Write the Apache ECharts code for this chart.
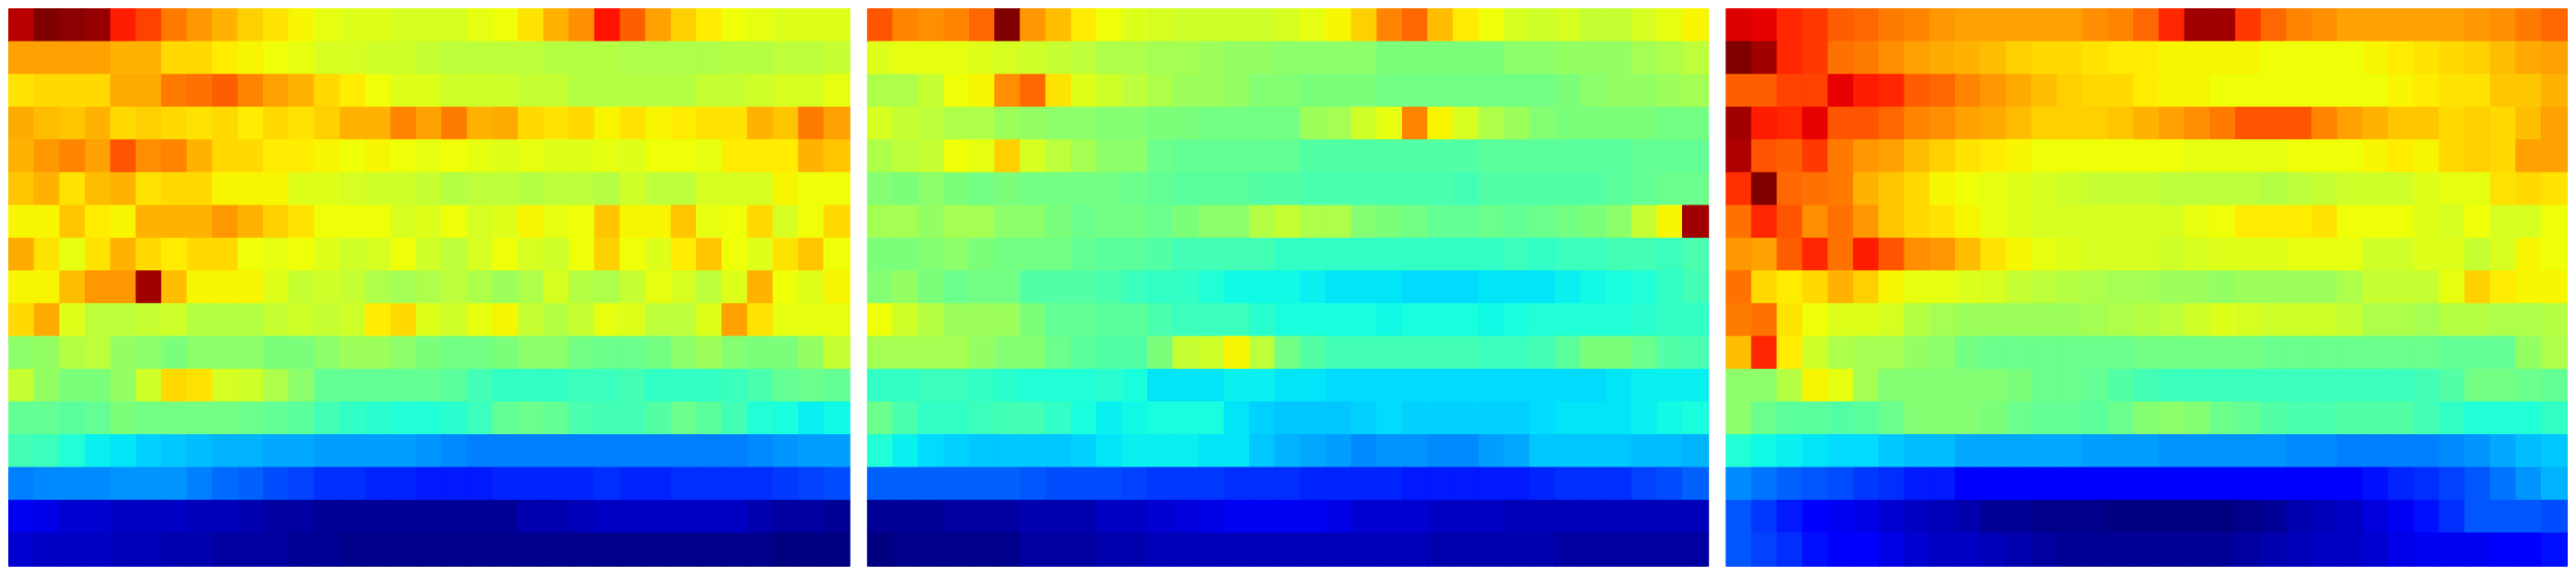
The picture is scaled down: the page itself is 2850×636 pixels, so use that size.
<!DOCTYPE html>
<html>
<head>
<meta charset="utf-8">
<script src="https://cdn.jsdelivr.net/npm/echarts@6/dist/echarts.min.js"></script>
<style>
html,body{margin:0;padding:0;background:#fff;}
#chart{width:2850px;height:636px;}
</style>
</head>
<body>
<div id="chart"></div>
<script>
// Values are positions on the jet colour scale, 0..100
const columns = Array.from({length: 33}, (_, i) => String(i + 1));
const rows = Array.from({length: 17}, (_, i) => String(i + 1));

const panel1 = [
[95,100,99,98,88,84,78,75,72,69,67,65,63,62,62,61,61,61,63,64,67,72,76,89,81,74,69,66,64,63,62,62,62],
[74,74,74,74,72,72,68,68,66,65,64,63,61,61,60,60,59,58,58,58,58,57,57,57,56,56,56,56,57,57,58,58,59],
[67,68,68,68,73,73,78,79,81,77,74,72,68,66,64,62,62,60,60,60,59,59,57,57,57,57,57,59,59,60,61,61,63],
[73,71,70,72,68,69,68,67,68,66,68,67,69,72,72,77,74,78,72,73,68,67,68,65,67,65,66,67,67,72,70,78,74],
[72,75,77,74,82,76,77,72,68,68,66,66,65,64,65,64,63,64,63,62,63,62,62,63,62,64,64,63,66,66,66,72,70],
[70,72,67,71,72,67,68,68,65,65,65,62,62,61,60,60,59,57,58,58,57,58,58,57,60,58,58,61,61,61,65,64,64],
[65,65,70,66,65,72,72,72,75,72,69,67,64,64,64,61,62,64,61,62,65,63,64,70,65,65,70,63,64,68,61,64,68],
[73,67,63,67,72,68,66,68,68,64,63,64,62,60,61,64,60,58,61,64,61,60,64,69,64,62,66,70,64,62,67,70,64],
[65,65,71,75,75,97,71,65,65,65,62,59,60,59,56,55,56,58,56,54,56,61,57,56,59,63,61,58,62,72,64,62,65],
[68,73,62,58,58,59,60,57,57,57,59,60,59,60,66,68,62,60,63,65,59,57,59,63,62,58,58,62,74,67,63,63,63],
[52,53,57,58,53,52,50,52,52,52,50,50,52,54,54,52,50,49,49,50,52,52,49,48,48,49,52,54,51,50,50,53,59],
[59,53,50,50,53,60,68,67,61,60,56,52,47,47,47,47,47,46,43,41,41,41,42,42,43,41,41,41,42,44,47,48,47],
[47,47,46,47,50,49,49,49,49,48,47,46,43,41,40,39,39,40,42,47,48,47,44,43,43,45,48,46,43,39,38,36,37],
[43,42,39,36,35,33,32,31,30,30,29,29,28,28,28,28,27,26,25,25,25,25,25,25,25,25,25,25,25,26,27,28,28],
[25,26,26,26,27,27,27,25,23,22,20,19,17,17,16,16,15,15,15,16,16,16,16,17,16,16,17,17,17,17,18,19,20],
[10,9,7,7,6,6,6,5,5,4,3,3,2,2,2,2,2,2,2,2,4,4,5,6,6,6,6,6,6,4,3,3,2],
[7,6,6,6,5,5,4,4,3,3,3,2,2,1,1,1,1,1,1,1,1,1,1,1,1,1,1,1,1,1,0,0,0]
];

const panel2 = [
[82,77,76,77,80,100,75,71,66,64,62,61,60,60,60,60,61,63,65,69,77,80,71,66,64,61,60,61,59,59,61,63,65],
[62,63,63,63,62,61,60,59,58,56,56,55,55,54,53,53,52,52,52,52,50,50,50,50,50,52,52,53,53,53,55,56,58],
[56,56,59,64,65,76,80,67,62,60,58,56,54,54,53,51,51,50,50,50,49,49,49,49,49,49,49,50,52,53,53,54,55],
[61,59,58,56,56,54,53,52,52,51,51,50,50,49,49,49,49,54,55,60,63,77,65,61,56,54,51,50,50,50,50,49,49],
[56,58,59,64,63,69,61,58,55,52,52,48,47,47,47,47,47,45,45,45,45,45,45,45,46,46,46,46,46,46,47,47,47],
[51,50,52,50,49,50,49,49,49,49,48,47,46,46,46,45,45,44,44,44,44,44,44,43,45,45,45,45,45,46,47,48,48],
[55,55,53,55,55,52,52,50,48,49,49,48,50,52,52,57,59,56,56,51,50,49,47,47,48,47,48,49,50,52,59,65,97],
[50,50,51,52,50,49,49,49,47,46,46,45,43,43,43,43,41,41,41,41,41,41,41,41,41,42,41,42,42,43,43,42,44],
[51,53,50,48,49,49,45,45,45,44,42,41,41,39,37,37,37,36,35,35,35,34,34,34,35,35,35,36,37,38,39,41,43],
[64,60,57,54,54,54,50,47,47,46,46,44,42,42,42,40,38,38,38,38,37,38,38,38,37,38,39,39,39,39,40,41,41],
[55,55,55,55,53,51,51,48,46,45,45,50,59,60,65,58,49,45,43,43,43,43,43,43,42,42,43,46,50,50,48,45,44],
[41,41,42,42,41,40,39,39,39,40,38,35,35,35,36,36,35,35,34,34,34,34,34,34,34,34,34,34,34,35,36,36,36],
[48,44,41,41,42,43,43,41,38,36,37,38,38,38,35,33,32,32,32,33,34,33,33,33,33,33,34,35,35,35,36,37,38],
[39,36,34,33,32,32,32,32,33,35,36,36,36,35,35,32,30,29,28,26,27,27,26,26,28,29,32,32,32,32,31,31,30],
[22,22,22,22,22,22,21,20,20,20,19,18,18,18,17,17,17,16,16,16,16,15,15,15,15,15,16,17,17,17,19,20,22],
[2,2,2,3,3,3,4,4,4,6,6,7,8,9,10,10,10,10,9,7,7,7,6,6,6,5,5,5,5,5,5,5,5],
[0,1,1,1,1,1,3,3,3,4,4,5,5,5,5,5,5,5,5,5,5,5,4,4,4,4,4,3,3,3,3,3,3]
];

const panel3 = [
[92,91,87,85,81,80,78,77,75,74,74,74,74,74,76,77,80,87,97,97,85,80,77,76,74,74,74,74,74,75,76,78,80],
[100,97,87,85,79,78,76,74,73,72,71,69,68,68,67,66,66,65,65,65,65,64,64,64,64,65,66,67,68,69,71,73,74],
[81,81,84,84,91,88,87,81,80,77,75,73,71,69,68,68,66,65,65,64,64,64,64,64,64,64,65,66,67,67,70,70,72],
[97,88,87,91,82,82,80,77,76,74,73,71,69,69,69,70,72,74,76,78,82,82,82,77,74,72,70,70,68,69,68,71,74],
[96,82,81,85,78,75,74,71,69,67,66,65,64,64,64,64,64,64,63,63,63,63,64,64,64,65,66,65,68,69,68,74,74],
[86,100,80,79,78,72,70,68,65,64,63,62,61,60,59,59,59,58,58,58,58,57,58,59,60,60,60,62,63,63,67,68,67],
[79,87,82,76,79,75,70,68,67,65,63,62,61,61,61,61,61,61,63,64,66,66,66,67,64,64,64,62,61,64,61,61,64],
[75,74,81,87,79,88,82,76,75,71,67,65,63,62,61,61,61,60,61,62,62,62,63,63,63,60,60,62,62,59,61,65,64],
[79,68,66,68,72,69,65,63,63,62,61,59,58,57,56,55,55,54,54,53,54,54,54,54,56,59,59,59,63,69,66,65,65],
[78,79,67,64,62,62,61,57,55,54,54,54,54,54,55,56,57,58,60,62,61,60,60,60,59,56,56,55,57,57,56,56,57],
[71,87,66,60,56,55,55,53,52,49,48,48,48,48,48,48,49,49,49,49,49,48,48,48,48,48,48,48,47,47,47,53,56],
[52,52,57,65,63,55,51,51,51,51,51,50,48,48,47,45,43,42,42,42,42,42,42,42,42,42,42,43,45,49,49,48,47],
[52,48,46,46,45,46,48,51,51,51,50,48,47,47,46,48,51,52,51,48,47,45,44,44,45,45,45,43,41,39,39,39,41],
[39,37,36,35,34,34,32,31,31,29,29,29,29,29,28,28,28,27,27,27,27,27,26,26,25,25,25,25,26,27,29,31,32],
[26,24,22,21,20,18,17,15,15,12,12,12,12,12,12,12,12,12,12,12,12,12,12,12,12,14,16,17,19,21,24,27,30],
[21,18,15,12,10,9,7,6,5,4,2,2,1,1,1,0,0,0,0,0,1,2,4,5,6,8,10,14,17,21,21,21,20],
[21,19,17,14,11,11,9,7,6,6,5,4,3,2,2,2,2,2,2,2,3,4,5,6,6,7,9,10,10,10,12,11,14]
];

const panels = [panel1, panel2, panel3];

// jet colour map (matplotlib segment definition)
function seg(t, pts) {
  for (let i = 1; i < pts.length; i++) {
    if (t <= pts[i][0]) {
      const [x0, y0] = pts[i - 1], [x1, y1] = pts[i];
      return y0 + (y1 - y0) * (t - x0) / (x1 - x0);
    }
  }
  return pts[pts.length - 1][1];
}
function jet(t) {
  const r = seg(t, [[0,0],[0.35,0],[0.66,1],[0.89,1],[1,0.5]]);
  const g = seg(t, [[0,0],[0.125,0],[0.375,1],[0.64,1],[0.91,0],[1,0]]);
  const b = seg(t, [[0,0.5],[0.11,1],[0.34,1],[0.65,0],[1,0]]);
  const h = v => Math.round(Math.max(0, Math.min(1, v)) * 255).toString(16).padStart(2, '0');
  return '#' + h(r) + h(g) + h(b);
}
const VMIN = 0, VMAX = 100;
const jetColors = [];
for (let i = 0; i <= 200; i++) jetColors.push(jet(i / 200));

const chart = echarts.init(document.getElementById('chart'), null, {renderer: 'canvas'});
const lefts = [10, 960, 1910];
const grids = [], xAxes = [], yAxes = [], series = [];
panels.forEach((p, k) => {
  grids.push({left: lefts[k], top: 10, width: 930, height: 616});
  xAxes.push({type: 'category', data: columns, gridIndex: k, show: false});
  yAxes.push({type: 'category', data: rows, gridIndex: k, inverse: true, show: false});
  const data = [];
  p.forEach((row, r) => row.forEach((v, c) => data.push({
    value: [c, r, v],
    // thin same-colour border hides anti-aliasing seams between cells
    itemStyle: {borderColor: jet((v - VMIN) / (VMAX - VMIN)), borderWidth: 1}
  })));
  series.push({
    type: 'heatmap', xAxisIndex: k, yAxisIndex: k, data: data,
    emphasis: {disabled: true},
    progressive: 0
  });
});

chart.setOption({
  backgroundColor: '#ffffff',
  animation: false,
  grid: grids,
  xAxis: xAxes,
  yAxis: yAxes,
  visualMap: {
    show: false, type: 'continuous', min: VMIN, max: VMAX,
    seriesIndex: [0, 1, 2],
    inRange: {color: jetColors}
  },
  series: series
});
</script>
</body>
</html>
